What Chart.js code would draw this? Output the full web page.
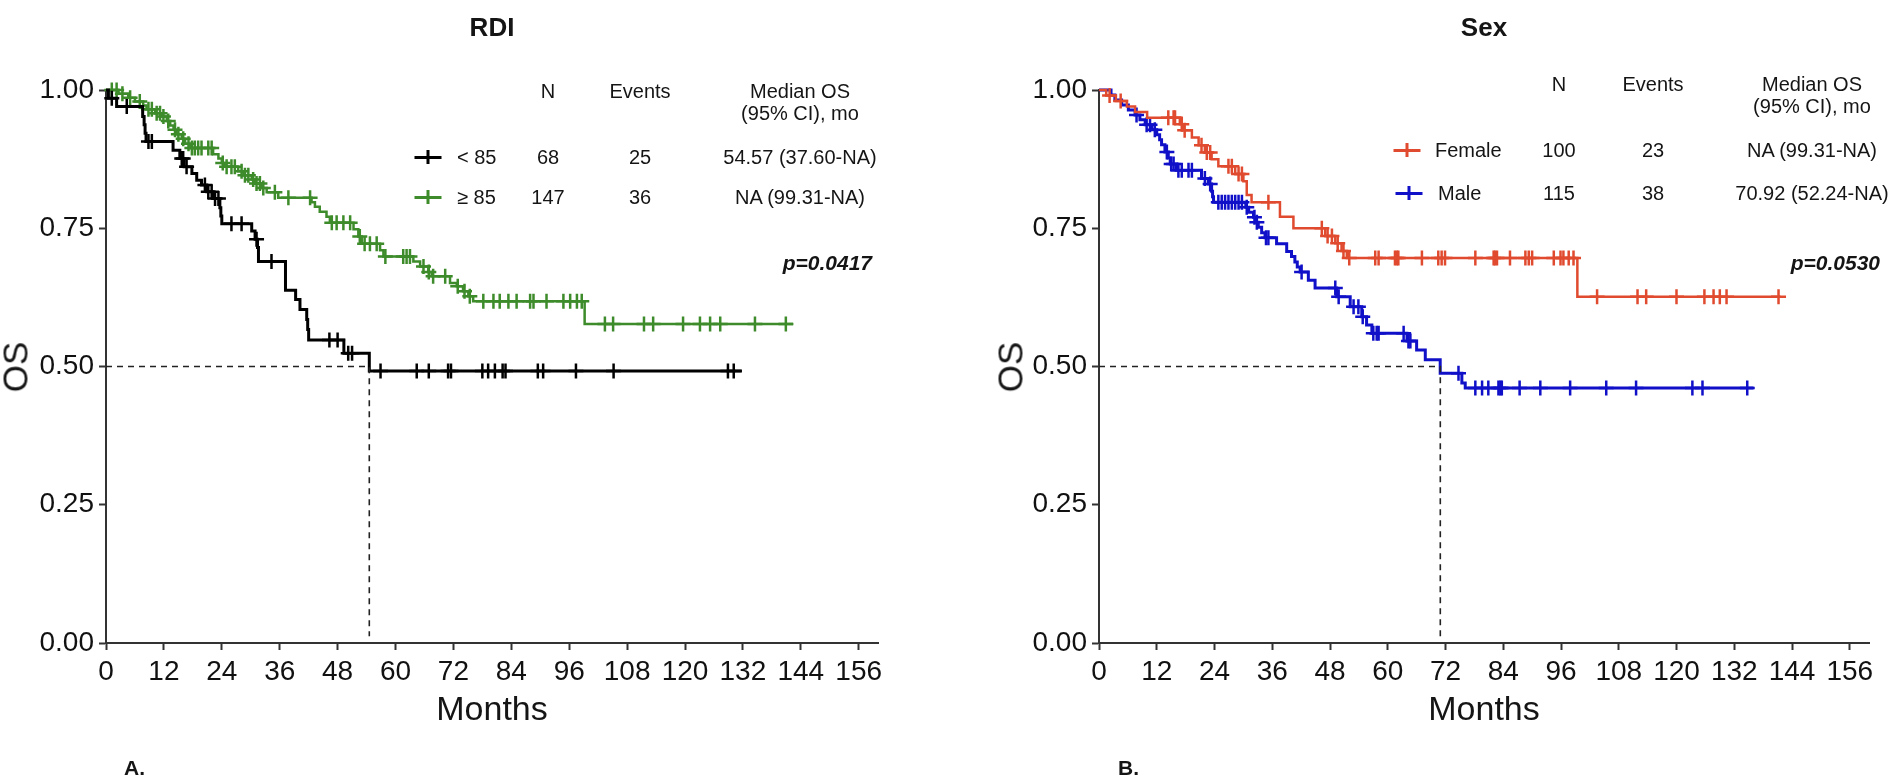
<!DOCTYPE html>
<html>
<head>
<meta charset="utf-8">
<script src="https://cdn.jsdelivr.net/npm/chart.js@4.4.1/dist/chart.umd.min.js"></script>
<style>
  html, body { margin: 0; padding: 0; background: #fff; }
  body { width: 1890px; height: 778px; position: relative; overflow: hidden;
         font-family: "Liberation Sans", Arial, sans-serif; color: #151515; }
  canvas { position: absolute; top: 0; }
  .t { position: absolute; white-space: nowrap; line-height: 1; transform: translate(-50%, -50%); }
  .l { transform: translate(0, -50%); }
  .r { transform: translate(-100%, -50%); }
  .title { font-weight: bold; font-size: 26px; }
  .axis { font-size: 34px; }
  .ylab { font-size: 35px; transform: translate(-50%, -50%) rotate(-90deg); }
  .panel { font-weight: bold; font-size: 21px; }
  .tab { font-size: 20px; }
  .pval { font-size: 21px; font-weight: bold; font-style: italic; }
  .mk { position: absolute; width: 27px; height: 14px; transform: translate(-50%, -50%); }
  .mk::before { content: ""; position: absolute; left: 0; right: 0; top: 6px; height: 3px; background: currentColor; }
  .mk::after { content: ""; position: absolute; top: 0; bottom: 0; left: 12px; width: 3px; background: currentColor; }
</style>
</head>
<body>
<canvas id="rdiChart" width="945" height="778" style="left:0"></canvas>
<canvas id="sexChart" width="945" height="778" style="left:945px"></canvas>

<!-- textos do painel A -->
<div class="t title" style="left:492px;top:27px">RDI</div>
<div class="t ylab" style="left:15px;top:367px">OS</div>
<div class="t axis" style="left:492px;top:708px">Months</div>
<div class="t l panel" style="left:124px;top:767px">A.</div>
<div class="t tab" style="left:548px;top:91px">N</div>
<div class="t tab" style="left:640px;top:91px">Events</div>
<div class="t tab" style="left:800px;top:91px">Median OS</div>
<div class="t tab" style="left:800px;top:113px">(95% CI), mo</div>
<div class="mk" style="left:428px;top:157px;color:#000"></div>
<div class="t l tab" style="left:457px;top:157px">&lt; 85</div>
<div class="t tab" style="left:548px;top:157px">68</div>
<div class="t tab" style="left:640px;top:157px">25</div>
<div class="t tab" style="left:800px;top:157px">54.57 (37.60-NA)</div>
<div class="mk" style="left:428px;top:197px;color:#3d8b2a"></div>
<div class="t l tab" style="left:457px;top:197px">≥ 85</div>
<div class="t tab" style="left:548px;top:197px">147</div>
<div class="t tab" style="left:640px;top:197px">36</div>
<div class="t tab" style="left:800px;top:197px">NA (99.31-NA)</div>
<div class="t r pval" style="left:872px;top:262px">p=0.0417</div>

<!-- textos do painel B -->
<div class="t title" style="left:1484px;top:27px">Sex</div>
<div class="t ylab" style="left:1010px;top:367px">OS</div>
<div class="t axis" style="left:1484px;top:708px">Months</div>
<div class="t l panel" style="left:1118px;top:767px">B.</div>
<div class="t tab" style="left:1559px;top:84px">N</div>
<div class="t tab" style="left:1653px;top:84px">Events</div>
<div class="t tab" style="left:1812px;top:84px">Median OS</div>
<div class="t tab" style="left:1812px;top:106px">(95% CI), mo</div>
<div class="mk" style="left:1407px;top:150px;color:#e04a2f"></div>
<div class="t l tab" style="left:1435px;top:150px">Female</div>
<div class="t tab" style="left:1559px;top:150px">100</div>
<div class="t tab" style="left:1653px;top:150px">23</div>
<div class="t tab" style="left:1812px;top:150px">NA (99.31-NA)</div>
<div class="mk" style="left:1409px;top:193px;color:#1010c8"></div>
<div class="t l tab" style="left:1438px;top:193px">Male</div>
<div class="t tab" style="left:1559px;top:193px">115</div>
<div class="t tab" style="left:1653px;top:193px">38</div>
<div class="t tab" style="left:1812px;top:193px">70.92 (52.24-NA)</div>
<div class="t r pval" style="left:1880px;top:262px">p=0.0530</div>

<script>
// eixos
const monthTicks = [0, 12, 24, 36, 48, 60, 72, 84, 96, 108, 120, 132, 144, 156];
const osTicks = [0, 0.25, 0.5, 0.75, 1];

// RDI < 85 (tempo do evento, sobrevida depois do evento)
const rdiLowTimes = [0, 0.5, 2.2, 7.6, 7.9, 8.1, 8.3, 13.9, 15.3, 16.2, 17.8, 18.8, 19.8, 20.9, 22.2, 23.6, 23.8, 24.0,
  30.2, 30.9, 31.4, 31.6, 37.2, 39.3, 40.2, 41.6, 41.8, 42.0, 49.3, 54.57, 131.8];
const rdiLowSurv = [1, 0.985, 0.970, 0.952, 0.937, 0.922, 0.907, 0.891, 0.876, 0.861, 0.849, 0.837, 0.828, 0.816, 0.804, 0.787, 0.772, 0.758,
  0.745, 0.730, 0.715, 0.690, 0.638, 0.621, 0.603, 0.585, 0.567, 0.548, 0.524, 0.492, 0.492];
const rdiLowCensored = [1.2, 4.3, 8.8, 9.5, 15.7, 16.0, 16.7, 20.5, 21.2, 21.9, 22.6, 23.3, 26.0, 28.1, 31.2, 34.3,
  46.3, 48.0, 50.2, 51.0, 56.9, 64.4, 66.9, 70.9, 71.5, 78.0, 79.2, 80.6, 82.2, 82.8, 89.5, 90.6, 97.4, 105.2, 128.9, 130.1];

// RDI >= 85
const rdiHighTimes = [0, 2.6, 4.6, 6.0, 7.7, 8.4, 10.2, 11.5, 12.6, 13.3, 14.0, 14.6, 15.7, 16.4, 17.4, 22.2, 23.3, 24.0, 24.7, 27.4,
  28.5, 30.2, 30.9, 32.3, 33.3, 35.7, 42.6, 43.3, 44.3, 45.7, 46.4, 51.3, 52.3, 53.0, 56.8, 57.5, 63.7, 65.1, 66.8, 67.5,
  71.3, 72.7, 74.0, 75.1, 76.1, 99.2, 142.4];
const rdiHighSurv = [1, 0.993, 0.986, 0.979, 0.972, 0.965, 0.958, 0.952, 0.944, 0.936, 0.928, 0.920, 0.912, 0.903, 0.895, 0.884, 0.876, 0.868, 0.861, 0.853,
  0.846, 0.838, 0.831, 0.823, 0.815, 0.805, 0.797, 0.789, 0.780, 0.771, 0.760, 0.748, 0.735, 0.722, 0.710, 0.699, 0.690, 0.681, 0.671, 0.663,
  0.651, 0.645, 0.636, 0.627, 0.618, 0.577, 0.577];
const rdiHighCensored = [1.2, 2.2, 3.4, 5.0, 7.0, 8.8, 9.5, 10.5, 11.2, 11.9, 12.9, 14.3, 15.0, 16.0, 17.1, 17.8, 18.4, 19.1, 19.8, 21.2, 21.9,
  24.2, 25.0, 26.0, 26.7, 28.1, 28.8, 29.5, 30.5, 31.2, 31.9, 32.6, 35.0, 37.8, 42.3, 46.8, 47.8, 49.2, 50.6, 52.6, 53.6, 54.7, 56.1,
  57.9, 61.6, 62.3, 63.0, 65.8, 66.9, 67.8, 70.3, 72.9, 74.3, 75.4, 78.2, 80.3, 81.6, 83.4, 85.1, 87.9, 88.6, 91.3, 94.8, 96.2, 97.6,
  98.6, 103.4, 105.1, 111.5, 113.4, 119.6, 123.1, 125.2, 127.3, 134.5, 140.9];

// Female
const femaleTimes = [0, 1.5, 3.5, 5.8, 7.5, 10.0, 16.8, 17.5, 19.3, 20.7, 22.0, 23.4, 24.8, 28.3, 30.0, 30.7, 31.7, 37.6, 40.4,
  47.0, 49.1, 50.4, 51.5, 99.4, 141.6];
const femaleSurv = [1, 0.990, 0.980, 0.970, 0.960, 0.950, 0.938, 0.927, 0.914, 0.900, 0.887, 0.875, 0.862, 0.848, 0.835, 0.810, 0.797, 0.771, 0.750,
  0.736, 0.723, 0.709, 0.696, 0.626, 0.626];
const femaleCensored = [2.2, 4.5, 14.4, 15.5, 15.8, 17.2, 17.8, 21.3, 22.4, 23.1, 26.9, 27.6, 29.0, 29.7, 35.2, 46.3, 47.5, 48.4, 49.6,
  50.8, 52.0, 57.4, 58.1, 61.5, 61.9, 62.2, 67.1, 70.5, 71.2, 71.9, 78.2, 82.0, 82.3, 82.7, 85.4, 88.6, 89.3, 90.0, 94.5, 95.9, 96.5,
  97.6, 98.6, 103.5, 111.9, 113.7, 120.0, 125.8, 127.7, 129.0, 130.4, 141.2];

// Male
const maleTimes = [0, 2.5, 3.3, 4.7, 6.1, 7.5, 8.5, 9.6, 11.0, 12.0, 12.6, 13.0, 13.7, 14.4, 14.8, 16.1, 21.3, 22.7, 23.4, 23.6,
  23.8, 30.5, 31.1, 32.1, 32.6, 33.1, 33.8, 34.5, 36.9, 39.0, 40.0, 40.7, 41.2, 41.8, 43.5, 44.9, 49.4, 52.2, 54.6, 55.6,
  56.7, 64.0, 66.0, 67.8, 70.9, 75.4, 76.1, 136.0];
const maleSurv = [1, 0.991, 0.982, 0.973, 0.964, 0.955, 0.946, 0.937, 0.928, 0.919, 0.910, 0.901, 0.888, 0.877, 0.866, 0.855, 0.840, 0.830, 0.817, 0.807,
  0.797, 0.788, 0.779, 0.770, 0.761, 0.752, 0.742, 0.733, 0.722, 0.708, 0.699, 0.689, 0.680, 0.671, 0.656, 0.642, 0.626, 0.608, 0.590, 0.575,
  0.560, 0.546, 0.530, 0.512, 0.488, 0.470, 0.461, 0.461];
const maleCensored = [7.8, 9.9, 10.6, 11.6, 14.1, 15.0, 15.5, 16.5, 17.2, 18.6, 19.3, 22.0, 23.1, 24.8, 25.5, 26.2, 26.9, 27.6, 28.3,
  29.0, 29.7, 30.7, 32.3, 32.8, 34.7, 35.2, 42.1, 49.1, 49.8, 52.9, 53.9, 54.8, 57.0, 57.7, 58.1, 63.3, 64.3, 64.7, 74.7, 78.2,
  79.6, 80.9, 83.0, 83.4, 83.7, 87.4, 91.7, 97.9, 105.4, 111.6, 123.3, 125.4, 134.7];

// medianas (linha tracejada)
const rdiMedian = 54.57;
const sexMedian = 70.92;

// valor da curva KM num instante t
function survAt(times, surv, t) {
    let v = surv[0];
    for (let i = 0; i < times.length; i++) {
        if (times[i] <= t) v = surv[i];
    }
    return v;
}

function kmSets(times, surv, censored, color, width) {
    return [
        {
            data: times.map((t, i) => ({ x: t, y: surv[i] })),
            borderColor: color,
            borderWidth: width,
            stepped: 'before',
            pointRadius: 0,
            fill: false,
            clip: false
        },
        {
            data: censored.map(t => ({ x: t, y: survAt(times, surv, t) })),
            showLine: false,
            borderColor: color,
            pointStyle: 'cross',
            pointRadius: 7.5,
            pointBorderWidth: 2.5,
            clip: false
        }
    ];
}

function medianSet(m) {
    return {
        data: [{ x: 0, y: 0.5 }, { x: m, y: 0.5 }, { x: m, y: 0.012 }],
        borderColor: '#222',
        borderWidth: 1.6,
        borderDash: [6, 5],
        pointRadius: 0,
        fill: false
    };
}

function makeChart(id, datasets, padLeft, padRight) {
    const tickFont = { family: 'Liberation Sans', size: 28 };
    const grid = { drawOnChartArea: false, drawTicks: true, tickLength: 7, tickWidth: 2, color: '#333' };
    new Chart(document.getElementById(id), {
        type: 'line',
        data: { datasets: datasets },
        options: {
            responsive: false,
            animation: false,
            layout: { padding: { left: padLeft, right: padRight, top: 90, bottom: 75 } },
            plugins: { legend: { display: false }, tooltip: { enabled: false }, title: { display: false } },
            scales: {
                x: {
                    type: 'linear', min: 0, max: 160,
                    afterFit: s => { s.height = 60; },
                    afterBuildTicks: s => { s.ticks = monthTicks.map(v => ({ value: v })); },
                    ticks: { font: tickFont, color: '#111', padding: 5, maxRotation: 0, autoSkip: false },
                    grid: grid,
                    border: { color: '#333', width: 2 }
                },
                y: {
                    type: 'linear', min: 0, max: 1,
                    afterFit: s => { s.width = 100; },
                    afterBuildTicks: s => { s.ticks = osTicks.map(v => ({ value: v })); },
                    ticks: { font: tickFont, color: '#111', padding: 5, callback: v => v.toFixed(2) },
                    grid: grid,
                    border: { color: '#333', width: 2 }
                }
            }
        }
    });
}

makeChart('rdiChart', [
    medianSet(rdiMedian),
    ...kmSets(rdiLowTimes, rdiLowSurv, rdiLowCensored, '#000000', 3),
    ...kmSets(rdiHighTimes, rdiHighSurv, rdiHighCensored, '#3d8b2a', 2.5)
], 6, 67);

makeChart('sexChart', [
    medianSet(sexMedian),
    ...kmSets(femaleTimes, femaleSurv, femaleCensored, '#e04a2f', 2.5),
    ...kmSets(maleTimes, maleSurv, maleCensored, '#1010c8', 3)
], 54, 21);
</script>
</body>
</html>
